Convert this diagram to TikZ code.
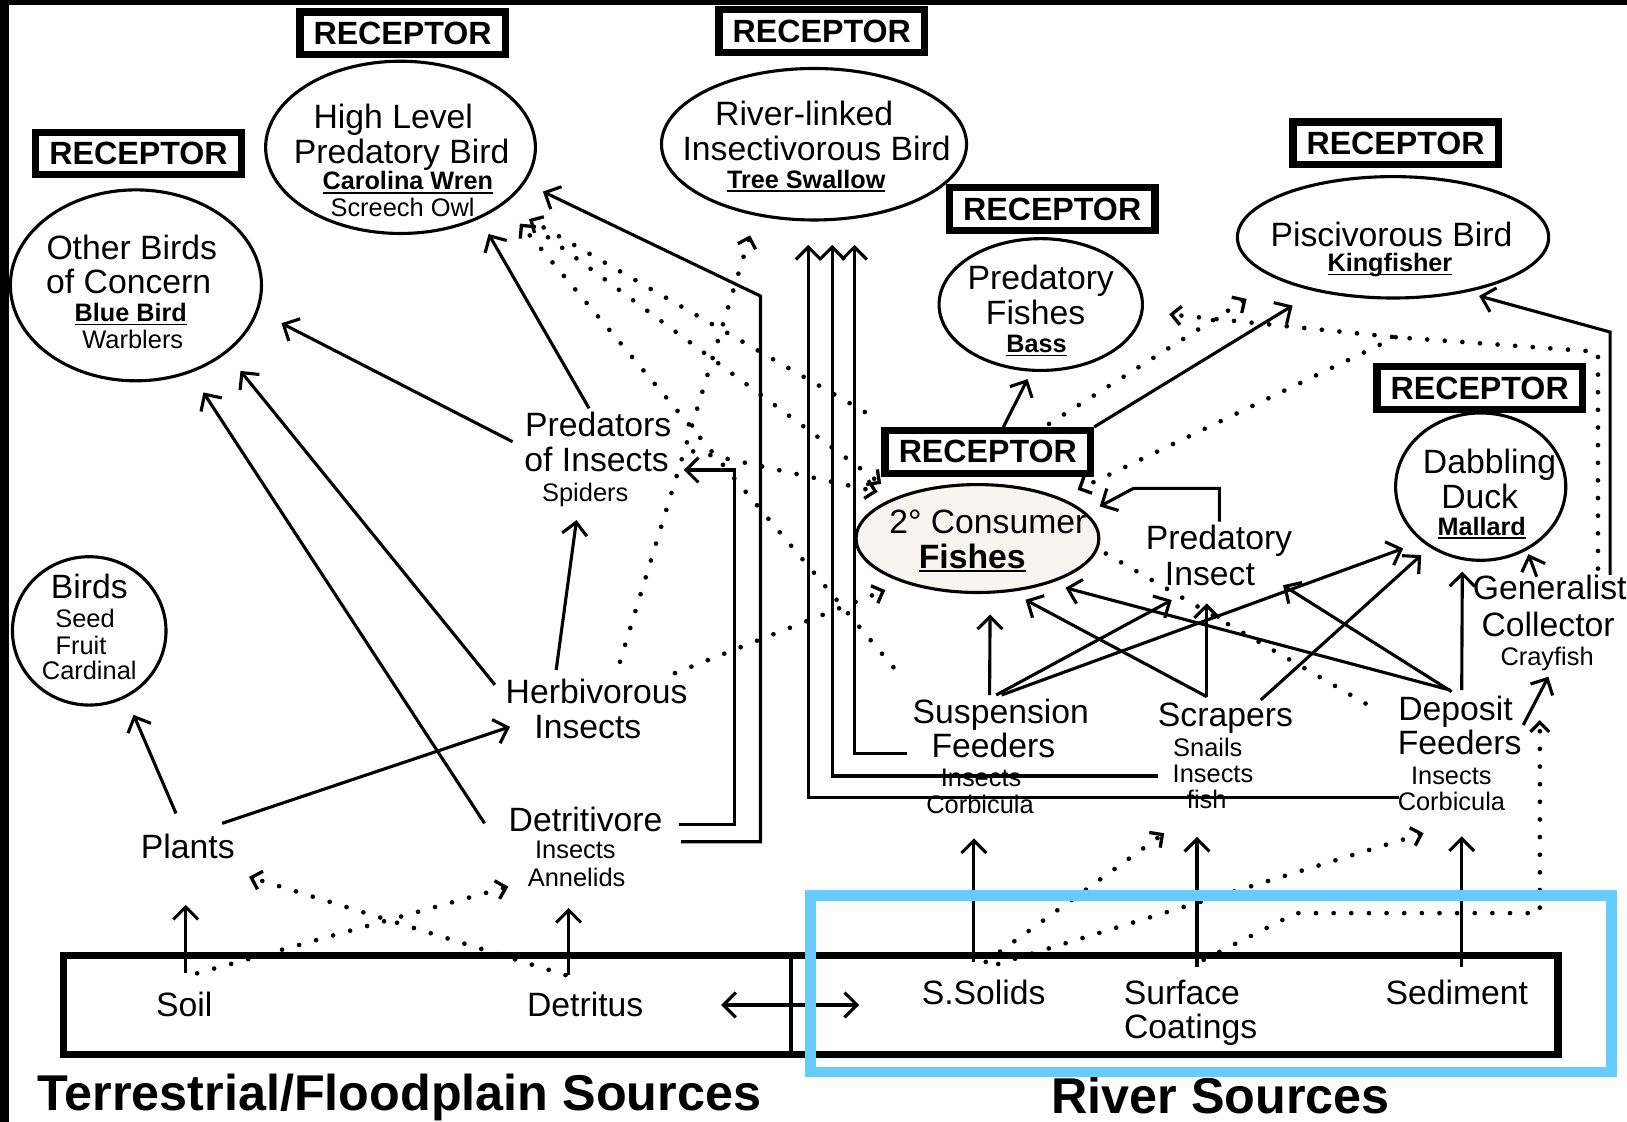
\documentclass[tikz,border=0pt]{standalone}
\usepackage{fontspec}
\setmainfont{Liberation Sans}
\usetikzlibrary{arrows.meta,shapes.geometric}
\pgfdeclarelayer{bgzero}
\pgfdeclarelayer{conn}
\pgfdeclarelayer{topl}
\pgfsetlayers{bgzero,conn,main,topl}
\definecolor{skyb}{RGB}{102,204,255}
\definecolor{fishfill}{RGB}{248,244,240}
\newsavebox{\ulsave}
\newcommand{\ulbox}[1]{\sbox{\ulsave}{#1}\rlap{\rule[-3.5pt]{\wd\ulsave}{1.6pt}}\usebox{\ulsave}}
\tikzset{
 txt/.style={font=\fontsize{32.5}{36}\selectfont, inner sep=0pt, anchor=base},
 txs/.style={font=\fontsize{24.5}{28}\selectfont, inner sep=0pt, anchor=base},
 txb/.style={font=\bfseries\fontsize{24.3}{28}\selectfont, inner sep=0pt, anchor=base},
 ttl/.style={font=\bfseries\fontsize{48.5}{52}\selectfont, inner sep=0pt, anchor=base},
 recbox/.style={draw, line width=7pt, fill=white, minimum width=198pt, minimum height=41pt, inner sep=0pt, font=\bfseries\fontsize{31}{34}\selectfont},
 ell/.style={draw, ellipse, line width=3pt, fill=white, inner sep=0pt},
 arr/.style={line width=3pt, -{Straight Barb[length=12pt,width=24pt]}},
 dotl/.style={line width=4.5pt, line cap=round, dash pattern=on 0pt off 17pt},
 darr/.style={dotl, -{Straight Barb[length=9pt,width=18pt,line width=3.2pt]}},
}
\begin{document}
\begin{tikzpicture}[x=1pt,y=-1pt]
\useasboundingbox (0,0) rectangle (1568,1081);
\begin{pgfonlayer}{bgzero}
\fill[white] (0,0) rectangle (1568,1081);
\fill[black] (0,0) rectangle (9,1081);
\fill[black] (0,0) rectangle (1568,5);
\end{pgfonlayer}

% ellipses
\node[ell, minimum width=242pt, minimum height=184pt] (ob) at (131,275) {};
\node[ell, minimum width=260pt, minimum height=166pt] (hl) at (386,142) {};
\node[ell, minimum width=294pt, minimum height=146pt] (rl) at (784.5,139) {};
\node[ell, minimum width=196pt, minimum height=127pt] (pf) at (1003,293.5) {};
\node[ell, minimum width=300pt, minimum height=117pt] (pb) at (1342.5,228.7) {};
\node[ell, fill=fishfill, minimum width=234pt, minimum height=104pt] (cf) at (942,519) {};
\node[ell, minimum width=164pt, minimum height=142pt] (dd) at (1427,469) {};
\node[ell, minimum width=148pt, minimum height=143pt] (bs) at (86,608) {};

% receptor boxes
\node[recbox] (rec1) at (133.5,148) {RECEPTOR};
\node[recbox] (rec2) at (388,32) {RECEPTOR};
\node[recbox] (rec3) at (792,30) {RECEPTOR};
\node[recbox] (rec4) at (1014,201.5) {RECEPTOR};
\node[recbox] (rec5) at (1345,138) {RECEPTOR};
\node[recbox] (rec6) at (1426,374) {RECEPTOR};
\node[recbox] (rec7) at (952,435.5) {RECEPTOR};

% texts in ellipses
\node[txt] (ob1) at (127,250.5) {Other Birds};
\node[txt] (ob2) at (124,283) {of Concern};
\node[txb] (ob3) at (126,310) {\ulbox{Blue Bird}};
\node[txs] (ob4) at (128,336) {Warblers};
\node[txt] (hl1) at (379,124) {High Level};
\node[txt] (hl2) at (387,157.5) {Predatory Bird};
\node[txb] (hl3) at (393,183) {\ulbox{Carolina Wren}};
\node[txs] (hl4) at (388,209) {Screech Owl};
\node[txt] (rl1) at (775,120.5) {River-linked};
\node[txt] (rl2) at (787,154.5) {Insectivorous Bird};
\node[txb] (rl3) at (777,181.5) {\ulbox{Tree Swallow}};
\node[txt] (pf1) at (1003,279) {Predatory};
\node[txt] (pf2) at (998,313) {Fishes};
\node[txb] (pf3) at (999,340) {\ulbox{Bass}};
\node[txt] (pb1) at (1341,237.7) {Piscivorous Bird};
\node[txb] (pb2) at (1339.5,262) {\ulbox{Kingfisher}};
\node[txt] (cf1) at (952,514) {2° Consumer};
\node[txt, font=\bfseries\fontsize{32.5}{36}\selectfont] (cf2) at (937,547.7) {\ulbox{Fishes}};
\node[txt] (dd1) at (1435.5,456.2) {Dabbling};
\node[txt] (dd2) at (1426,490) {Duck};
\node[txb] (dd3) at (1428,515.6) {\ulbox{Mallard}};
\node[txt] (bs1) at (86,576.5) {Birds};
\node[txs] (bs2) at (82,605) {Seed};
\node[txs] (bs3) at (78,631) {Fruit};
\node[txs] (bs4) at (86,655) {Cardinal};

% free texts
\node[txt] (pr1) at (576.5,421) {Predators};
\node[txt] (pr2) at (575,454.6) {of Insects};
\node[txs] (pr3) at (564,483.5) {Spiders};
\node[txt] (hb1) at (575,678) {Herbivorous};
\node[txt] (hb2) at (566.5,711.6) {Insects};
\node[txt] (pl) at (181,827.2) {Plants};
\node[txt] (dt1) at (564.3,801.5) {Detritivore};
\node[txs] (dt2) at (554.5,827) {Insects};
\node[txs] (dt3) at (555.7,854) {Annelids};
\node[txt] (pi1) at (1174.8,530) {Predatory};
\node[txt] (pi2) at (1166,563.8) {Insect};
\node[txt] (gc1) at (1493.5,577.6) {Generalist};
\node[txt] (gc2) at (1492,613) {Collector};
\node[txs] (gc3) at (1491,641) {Crayfish};
\node[txt] (sf1) at (964.5,697) {Suspension};
\node[txt] (sf2) at (957.4,729.9) {Feeders};
\node[txs] (sf3) at (945.5,758.2) {Insects};
\node[txs] (sf4) at (944.5,783.9) {Corbicula};
\node[txt] (sc1) at (1181,700.3) {Scrapers};
\node[txs] (sc2) at (1164,728.6) {Snails};
\node[txs] (sc3) at (1169,754.3) {Insects};
\node[txs] (sc4) at (1163,779) {fish};
\node[txt] (df1) at (1402.7,694) {Deposit};
\node[txt] (df2) at (1406.7,727.6) {Feeders};
\node[txs] (df3) at (1398.7,756.5) {Insects};
\node[txs] (df4) at (1398.8,781.3) {Corbicula};

% source box
\node[draw, line width=7pt, minimum width=1440pt, minimum height=95pt, inner sep=0pt] (srcbox) at (781.5,968.5) {};
\draw[line width=4pt] ([xshift=704pt]srcbox.north west) -- ([xshift=704pt]srcbox.south west);
\node[txt] (soil) at (177.5,979.8) {Soil};
\node[txt] (detr) at (564,980) {Detritus};
\node[txt] (ssol) at (948,967.6) {S.Solids};
\node[txt] (surf1) at (1139,967.6) {Surface};
\node[txt] (surf2) at (1147.5,1000.7) {Coatings};
\node[txt] (sed) at (1404,967.6) {Sediment};
\node[ttl] (tt1) at (385,1070) {Terrestrial/Floodplain Sources};
\node[ttl] (tt2) at (1176.5,1073) {River Sources};

\begin{pgfonlayer}{conn}
% solid connectors
\draw[arr, shorten >=18pt] ([shift={(-11.4,-43.3)}]pl.base) -- (bs.-61.7);
\draw[arr] ([shift={(33,-33.7)}]pl.base) -- ([shift={(-75,-11.2)}]hb2.base);
\draw[arr, shorten >=22.5pt] ([shift={(-97.3,-8)}]dt1.base) -- (ob.-58.3);
\draw[arr, shorten >=21.6pt] ([shift={(-98,-18)}]hb1.base) -- (ob.-37.1);
\draw[arr, shorten >=25pt] ([shift={(-82.5,4.7)}]pr1.base) -- (ob.-12.1);
\draw[arr, shorten >=17pt] ([shift={(-8.8,-27.5)}]pr1.base) -- (hl.-42.4);
\draw[arr] ([shift={(-39,-32.3)}]hb1.base) -- ([shift={(-8.4,17.7)}]pr3.base);
\draw[arr] ([shift={(89.7,-6.5)}]dt1.base) -- ++(54,0) |- ([shift={(84,-1.6)}]pr2.base);
\draw[arr, shorten >=19pt] ([shift={(92,9.7)}]dt1.base) -- ++(76.6,0) -- ++(0,-525.9) -- (hl.-16.8);
\draw[arr] ([shift={(-83.4,-3.9)}]sf2.base) -- ++(-50.6,0) -- ++(0,-490);
\draw[arr] ([shift={(-53,-6.4)}]sc3.base) -- ++(-314,0) -- ++(0,-511.9);
\draw[arr] ([shift={(-50.8,-12.9)}]df4.base) -- ++(-569,0) -- ++(0,-532.4);
\draw[arr, shorten >=20pt] ([shift={(-10.8,-27.2)}]sf1.base) -- (cf.-77.2);
\draw[arr] ([shift={(-4.5,-27.2)}]sf1.base) -- ([shift={(-36.8,14.5)}]pi2.base);
\draw[arr, shorten >=19pt] ([shift={(0.7,-27.2)}]sf1.base) -- (dd.-137.6);
\draw[arr, shorten >=16pt] ([shift={(-18,-28.9)}]sc1.base) -- (cf.-58.8);
\draw[arr] ([shift={(-18,-28.9)}]sc1.base) -- ([shift={(-3,17.7)}]pi2.base);
\draw[arr, shorten >=11pt] ([shift={(34,-25.7)}]sc1.base) -- (dd.-130.2);
\draw[arr, shorten >=16pt] ([shift={(-5.3,-29)}]df1.base) -- (cf.-32.4);
\draw[arr] ([shift={(-3.7,-27.4)}]df1.base) -- ([shift={(70.5,0.2)}]pi2.base);
\draw[arr, shorten >=11pt] ([shift={(6,-29)}]df1.base) -- (dd.-104.8);
\draw[arr, shorten >=14pt] ([shift={(0.3,-27.2)}]pi1.base) -- ++(0,-32.2) -- ++(-82.6,0) -- (cf.13.2);
\draw[arr, shorten >=8pt] ([shift={(15,0)}]rec7.north) -- (pf.-98);
\draw[arr, shorten >=26pt] (rec7.north east) -- (pb.-145.8);
\draw[arr, shorten >=13pt] ([shift={(58.2,-23.6)}]gc1.base) -- ++(0,-234) -- (pb.-37.5);
\draw[arr, shorten >=4pt] ([shift={(-12.5,-21.8)}]gc1.base) -- (dd.-54);
\draw[arr] ([shift={(65.3,4.7)}]df1.base) -- ([shift={(1.2,11.2)}]gc3.base);
\draw[arr] ([shift={(-9.4,-40.6)}]ssol.base) -- ([shift={(-5.9,24.1)}]sf4.base);
\draw[arr] ([shift={(14.6,-35.6)}]surf1.base) -- ([shift={(-9.4,27.5)}]sc4.base);
\draw[arr] ([shift={(4.7,-35.6)}]sed.base) -- ([shift={(9.9,24.7)}]df4.base);
\draw[arr] ([shift={(1.5,-41.8)}]soil.base) -- ([shift={(-2,44.8)}]pl.base);
\draw[arr] ([shift={(-16,-40)}]detr.base) -- ([shift={(-7.7,21)}]dt3.base);
\draw[line width=3pt, {Straight Barb[length=12pt,width=24pt]}-{Straight Barb[length=12pt,width=24pt]}] ([shift={(131,-11.5)}]detr.base) -- ([shift={(-120,0.9)}]ssol.base);

% dotted connectors
\draw[darr] ([shift={(12.5,-41.8)}]soil.base) -- ([shift={(-65.8,0.5)}]dt3.base);
\draw[darr] ([shift={(-19,-40.3)}]detr.base) -- ([shift={(59,17.8)}]pl.base);
\draw[darr, shorten >=19.6pt] ([shift={(22.5,-40.3)}]hb1.base) -- (rl.-129.5);
\draw[darr, shorten >=19pt] ([shift={(75.5,-29.3)}]hb1.base) -- (cf.-149.8);
\draw[darr, shorten >=24pt] ([shift={(-103.5,-54)}]sf1.base) -- (hl.-29.6);
\draw[darr, shorten >=28pt] ([shift={(-16,-14.5)}]rec7.north west) -- (hl.-29.5);
\draw[darr, shorten <=36pt, shorten >=20pt] (hl.-29.7) -- (cf.152.5);
\draw[darr, shorten >=20pt] ([shift={(93,-19.6)}]pr2.base) -- (cf.152.5);
\draw[dotl, shorten >=6pt] ([shift={(-86.7,-16)}]df1.base) -- (cf.-5.7);
\draw[darr] ([shift={(2,-40.6)}]ssol.base) -- ([shift={(-41,24)}]sc4.base);
\draw[darr] ([shift={(14,-38.6)}]ssol.base) -- ([shift={(-26.8,21.7)}]df4.base);
\draw[darr] ([shift={(21,-42.6)}]surf1.base) -- ++(89,-45) -| ([shift={(-7,53)}]gc3.base);
\coordinate (gbr) at (1345,325);
\draw[darr, shorten >=25pt] ([shift={(46.5,-29.6)}]gc1.base) -- ++(0,-209) -- (gbr) -- (pf.-4.9);
\draw[darr, shorten >=17.7pt] (gbr) -- (cf.26.8);
\draw[darr, shorten >=35pt] ([shift={(59,-3)}]rec7.north) -- (pb.-160.3);
\end{pgfonlayer}

\begin{pgfonlayer}{topl}
\node[draw=skyb, line width=10pt, minimum width=772pt, minimum height=170pt, inner sep=0pt] (hilite) at (1167,948) {};
\end{pgfonlayer}
\end{tikzpicture}
\end{document}
